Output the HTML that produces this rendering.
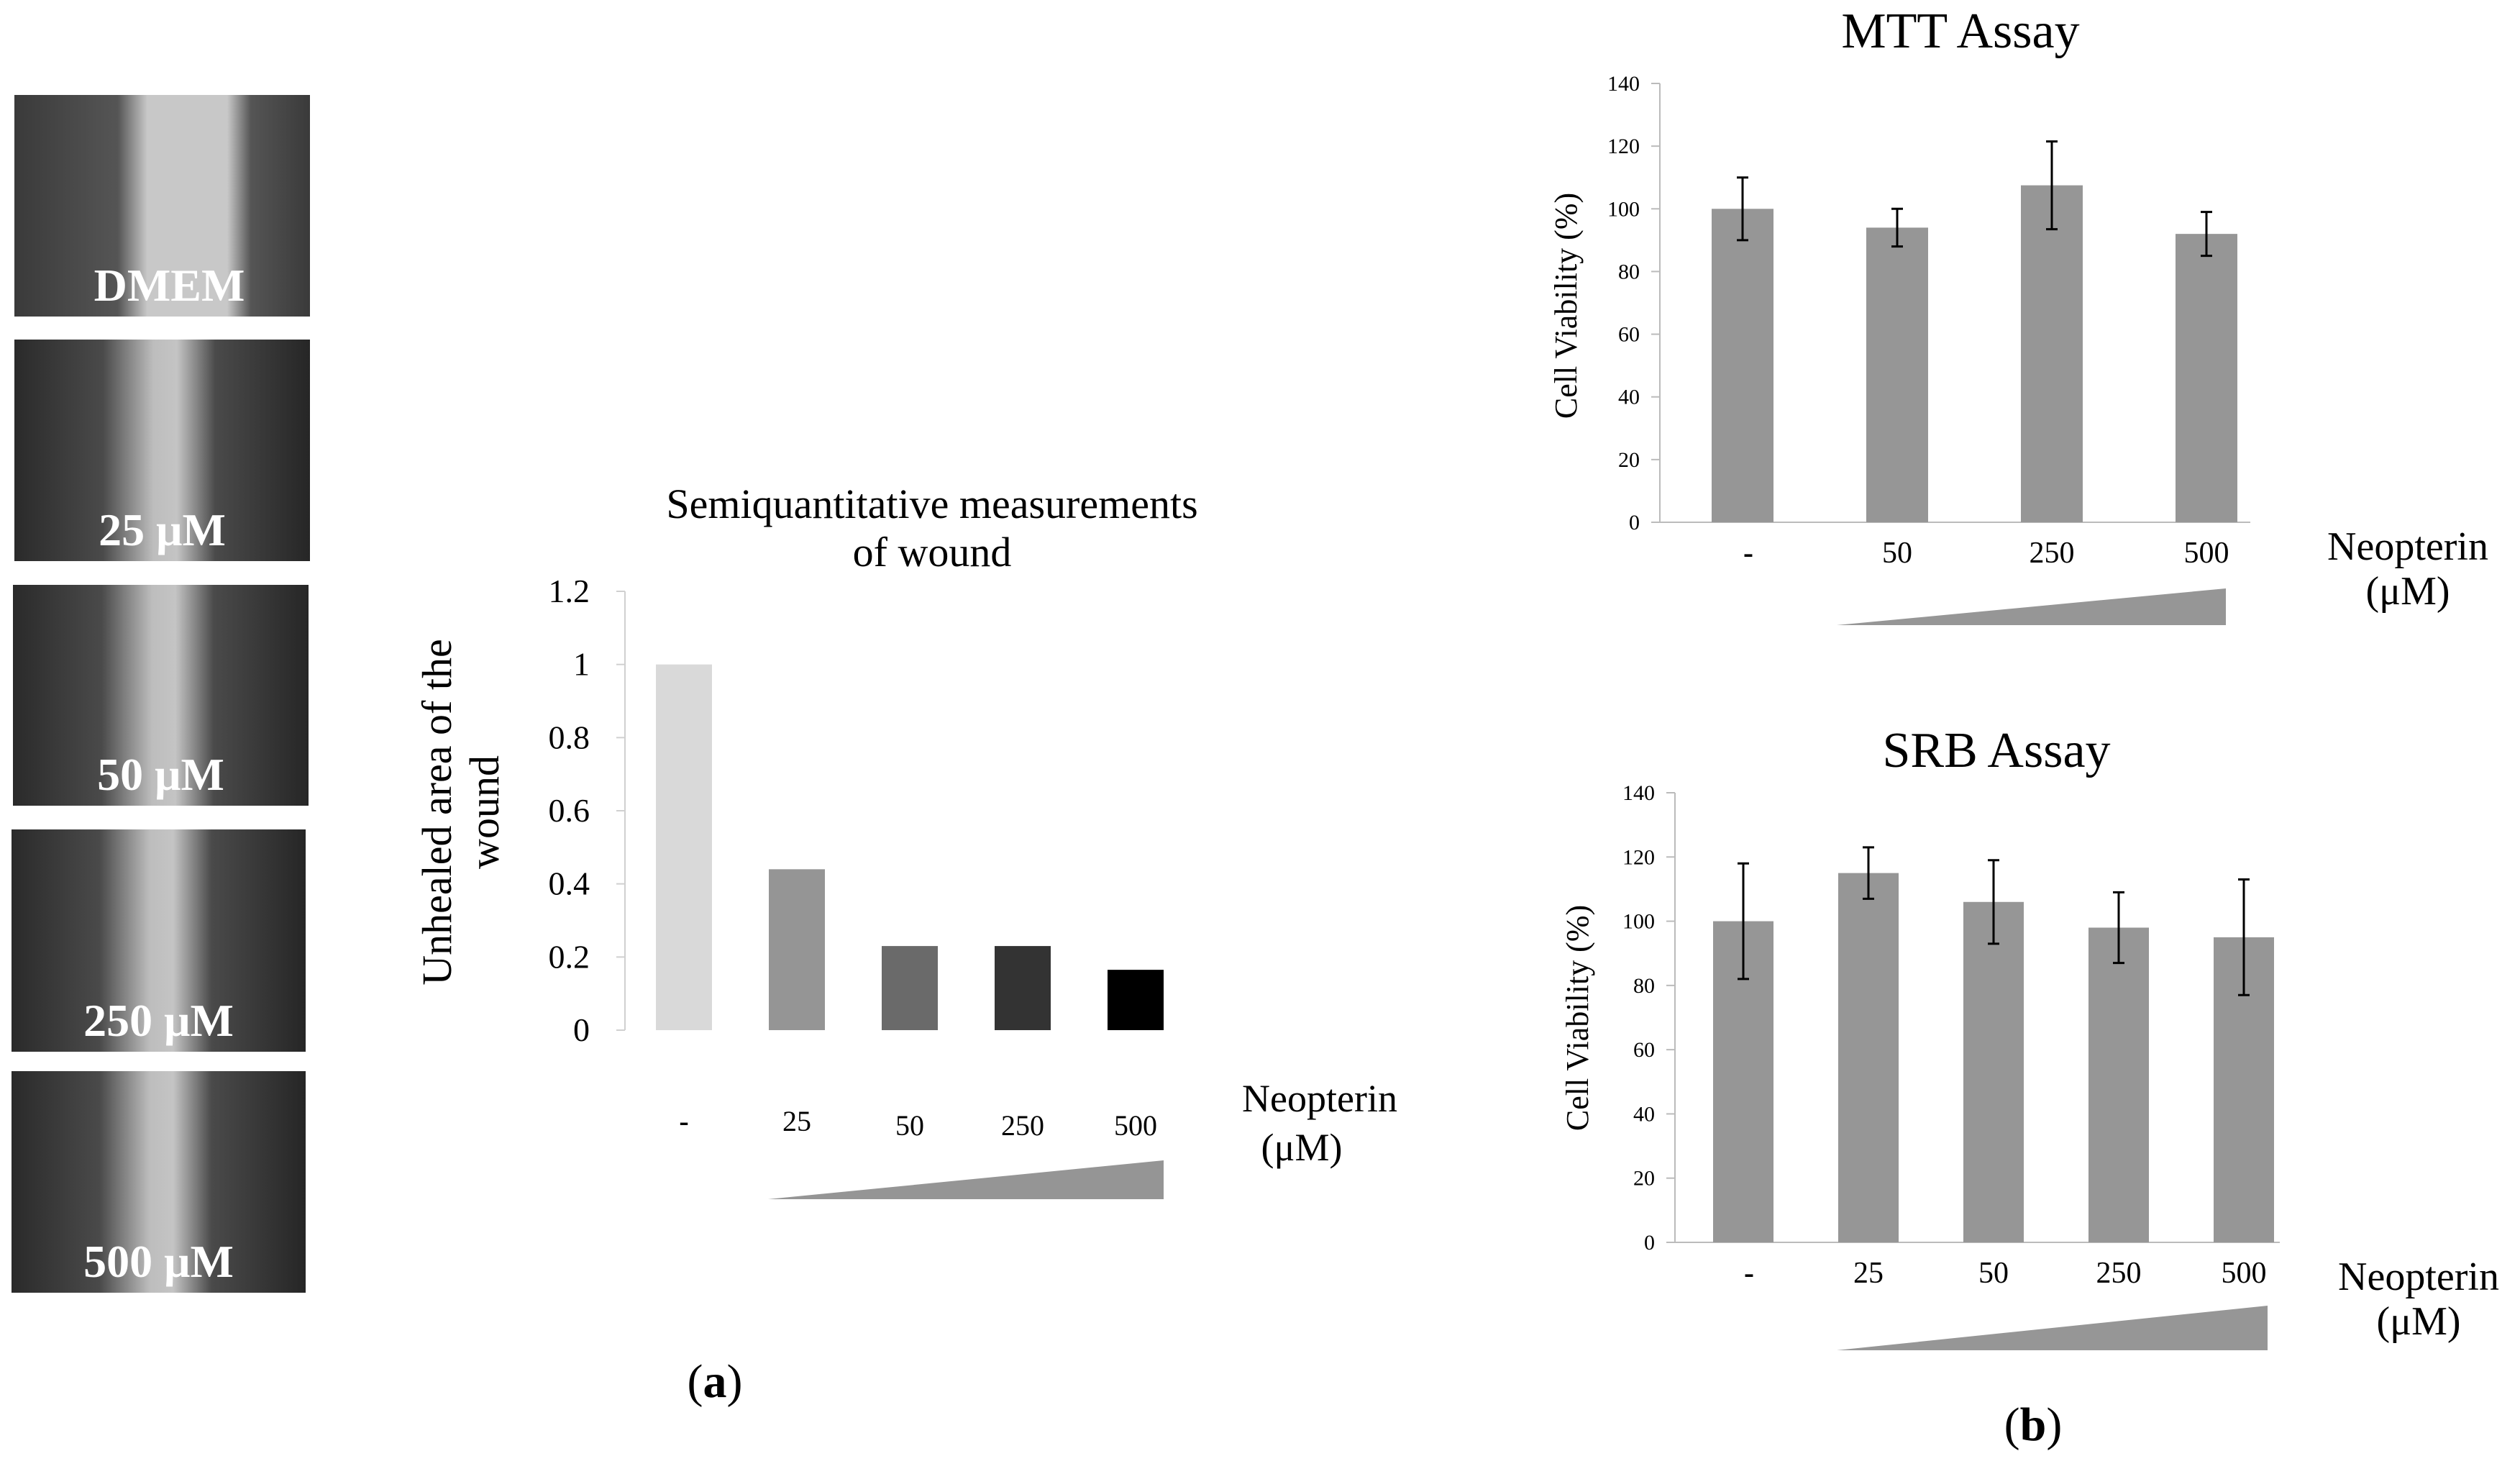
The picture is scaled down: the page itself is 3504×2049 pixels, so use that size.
<!DOCTYPE html>
<html><head><meta charset="utf-8"><style>
html,body{margin:0;padding:0;background:#fff;}
svg{display:block;font-family:"Liberation Serif",serif;}
</style></head><body>
<svg id="fig" width="3504" height="2049" viewBox="0 0 3504 2049" xmlns="http://www.w3.org/2000/svg">
<defs>
<linearGradient id="wound" x1="0" x2="1" y1="0" y2="0">
<stop offset="0" stop-color="#2a2a2a"/><stop offset="0.3" stop-color="#4a4a4a"/><stop offset="0.47" stop-color="#bdbdbd"/><stop offset="0.55" stop-color="#c4c4c4"/><stop offset="0.68" stop-color="#4a4a4a"/><stop offset="1" stop-color="#262626"/>
</linearGradient>
<linearGradient id="wound0" x1="0" x2="1" y1="0" y2="0">
<stop offset="0" stop-color="#3a3a3a"/><stop offset="0.35" stop-color="#555"/><stop offset="0.45" stop-color="#c8c8c8"/><stop offset="0.72" stop-color="#c8c8c8"/><stop offset="0.8" stop-color="#555"/><stop offset="1" stop-color="#3a3a3a"/>
</linearGradient>
</defs>
<g id="photos"></g>
<g id="chartA"></g>
<g id="chartMTT"></g>
<g id="chartSRB"></g>
<text x="994" y="1942" font-size="66" text-anchor="middle">(<tspan font-weight="bold">a</tspan>)</text>
<text x="2827" y="2002" font-size="66" text-anchor="middle">(<tspan font-weight="bold">b</tspan>)</text>
</svg>
<script>
const NS="http://www.w3.org/2000/svg";
function mk(parent,tag,attrs,txt){const e=document.createElementNS(NS,tag);for(const k in attrs)e.setAttribute(k,attrs[k]);if(txt!==undefined)e.textContent=txt;parent.appendChild(e);return e;}

// ---------- data ----------
const photoLabels=["DMEM","25 μM","50 μM","250 μM","500 μM"];
const woundCats=["-","25","50","250","500"];
const woundValues=[1,0.44,0.23,0.23,0.165];
const woundTicks=["0","0.2","0.4","0.6","0.8","1","1.2"];
const mttCats=["-","50","250","500"];
const mttValues=[100,94,107.5,92];
const mttErrors=[10,6,14,7];
const srbCats=["-","25","50","250","500"];
const srbValues=[100,115,106,98,95];
const srbErrors=[18,8,13,11,18];
const viabTicks=["0","20","40","60","80","100","120","140"];

// ---------- photos ----------
const pg=document.getElementById('photos');
const boxes=[[20,132,411,308],[20,472,411,308],[18,813,411,307],[16,1153,409,309],[16,1489,409,308]];
photoLabels.forEach((lab,i)=>{
  const [x,y,w,h]=boxes[i];
  const g=mk(pg,'g',{});
  
  
  mk(g,'rect',{x:x,y:y,width:w,height:h,fill:i===0?'url(#wound0)':'url(#wound)'});
  const t=mk(g,'text',{x:x+w/2+(i===0?10:0),y:y+h-22,'font-size':64,'font-weight':'bold',fill:'#fff','text-anchor':'middle'},lab);
  
  
});

// ---------- chart A ----------
(function(){
  const g=document.getElementById('chartA');
  const x0=869,y0=1432,yTop=822,max=1.2;
  const ys=v=>y0-(v/max)*(y0-yTop);
  const bx=i=>912+i*157;
  const cols=["#d9d9d9","#959595","#6a6a6a","#333333","#000000"];
  mk(g,'line',{x1:x0,y1:yTop,x2:x0,y2:y0,stroke:'#d0d0d0','stroke-width':2});
  woundTicks.forEach((t,i)=>{const v=i*0.2;const y=ys(v);
    mk(g,'line',{x1:x0-12,y1:y,x2:x0,y2:y,stroke:'#d0d0d0','stroke-width':2});
    const e=mk(g,'text',{x:820,y:y+15,'font-size':46,'text-anchor':'end'},t);
    
    });
  woundValues.forEach((v,i)=>{
    const r=mk(g,'rect',{x:bx(i),y:ys(v),width:78,height:y0-ys(v),fill:cols[i]});
    
    
  });
  woundCats.forEach((c,i)=>{
    const e=mk(g,'text',{x:bx(i)+39,y:i<2?1572:1578,'font-size':40,'text-anchor':'middle','font-weight':i===0?'bold':'normal'},c);
    
    
  });
  mk(g,'polygon',{points:'1068,1667 1618,1613 1618,1667',fill:'#959595'});
  mk(g,'text',{x:1296,y:720,'font-size':58,'text-anchor':'middle'},'Semiquantitative measurements');
  mk(g,'text',{x:1296,y:787,'font-size':58,'text-anchor':'middle'},'of wound');
  const yt=mk(g,'text',{transform:'translate(627,1129) rotate(-90)','font-size':58,'text-anchor':'middle'},'Unhealed area of the');
  
  mk(g,'text',{transform:'translate(693,1129) rotate(-90)','font-size':58,'text-anchor':'middle'},'wound');
  mk(g,'text',{x:1835,y:1545,'font-size':54,'text-anchor':'middle'},'Neopterin');
  mk(g,'text',{x:1810,y:1613,'font-size':54,'text-anchor':'middle'},'(μM)');
})();

// ---------- viability charts ----------
function viab(id,title,cats,vals,errs,cfg){
  const g=document.getElementById(id);
  const ys=v=>cfg.y0-(v/140)*(cfg.y0-cfg.yTop);
  mk(g,'line',{x1:cfg.x0,y1:cfg.yTop,x2:cfg.x0,y2:cfg.y0,stroke:'#bbb','stroke-width':2});
  mk(g,'line',{x1:cfg.x0,y1:cfg.y0,x2:cfg.xEnd,y2:cfg.y0,stroke:'#bbb','stroke-width':2});
  viabTicks.forEach((t,i)=>{const y=ys(i*20);
    mk(g,'line',{x1:cfg.x0-12,y1:y,x2:cfg.x0,y2:y,stroke:'#bbb','stroke-width':2});
    const e=mk(g,'text',{x:cfg.x0-28,y:y+10,'font-size':30,'text-anchor':'end'},t);
    
    });
  vals.forEach((v,i)=>{
    const x=cfg.bx+i*cfg.step;
    const r=mk(g,'rect',{x:x,y:ys(v),width:cfg.bw,height:cfg.y0-ys(v),fill:'#969696'});
    
    
    const cx=x+cfg.bw/2,hi=ys(v+errs[i]),lo=ys(v-errs[i]);
    const eb=mk(g,'path',{d:`M${cx},${hi}V${lo}M${cx-8},${hi}H${cx+8}M${cx-8},${lo}H${cx+8}`,stroke:'#000','stroke-width':3,fill:'none'});
    
    
    const e=mk(g,'text',{x:cx+(i===0?8:0),y:cfg.ly,'font-size':42,'text-anchor':'middle','font-weight':i===0?'bold':'normal'},cats[i]);
    
    
  });
  mk(g,'polygon',{points:cfg.wedge,fill:'#969696'});
  mk(g,'text',{x:cfg.tx,y:cfg.ty,'font-size':70,'text-anchor':'middle'},title);
  mk(g,'text',{transform:`translate(${cfg.yx},${cfg.yy}) rotate(-90)`,'font-size':44,'text-anchor':'middle'},'Cell Viability (%)');
  mk(g,'text',{x:cfg.nx,y:cfg.ny,'font-size':56,'text-anchor':'middle'},'Neopterin');
  mk(g,'text',{x:cfg.nx,y:cfg.ny+62,'font-size':56,'text-anchor':'middle'},'(μM)');
}
viab('chartMTT','MTT Assay',mttCats,mttValues,mttErrors,{x0:2308,xEnd:3129,y0:726,yTop:116,bx:2380,step:215,bw:86,ly:782,wedge:'2554,869 3095,818 3095,869',tx:2726,ty:66,yx:2192,yy:425,nx:3348,ny:778});
viab('chartSRB','SRB Assay',srbCats,srbValues,srbErrors,{x0:2329,xEnd:3170,y0:1727,yTop:1102,bx:2382,step:174,bw:84,ly:1783,wedge:'2554,1877 3153,1815 3153,1877',tx:2776,ty:1066,yx:2208,yy:1415,nx:3363,ny:1793});
</script>
</body></html>
